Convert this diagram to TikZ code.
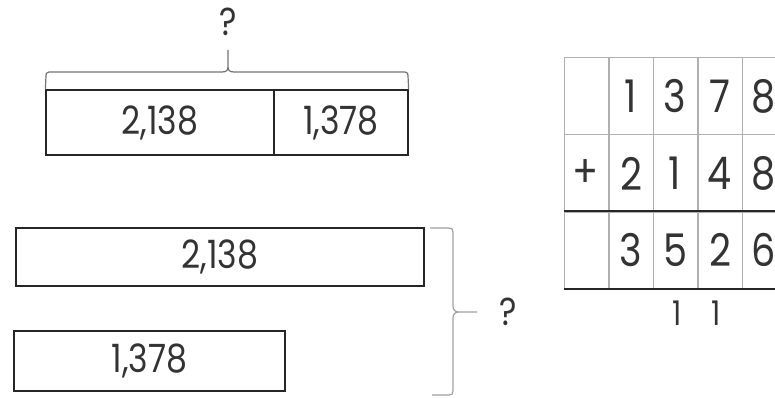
\documentclass[tikz,border=0pt]{standalone}
\usepackage{fontspec}
\setmainfont[FakeStretch=0.85]{Poppins}
\definecolor{ink}{HTML}{333333}
\definecolor{gridc}{HTML}{B0B0B0}
\definecolor{bracec}{HTML}{A0A0A0}
\begin{document}
\begin{tikzpicture}[x=1pt,y=-1pt,
  bar/.style={draw=black!85,line width=1.3pt,inner sep=0pt,minimum height=#1,text=ink,font=\fontsize{39}{39}\selectfont},
  bar/.default=65pt,
  cell/.style={draw=gridc,line width=1pt,minimum width=44pt,minimum height=77pt,inner sep=0pt,text=ink,font=\fontsize{45}{45}\selectfont},
  lbl/.style={text=ink,inner sep=0pt,font=\fontsize{39}{39}\selectfont},
  brc/.style={draw=bracec,line width=1.2pt},
  thick rule/.style={draw=black!85,line width=1.8pt}]
\useasboundingbox (0,0) rectangle (775,398);
\clip (0,0) rectangle (775,398);
% top bar model
\node[bar,minimum width=228pt] (a) at (160,122.5) {2,138};
\node[bar,minimum width=134pt] (b) at (341,122.5) {1,378};
\node[lbl] (qt) at (228,22) {?};
\draw[brc,draw=black!55] (a.north west) -- (46,76) .. controls (46,73) .. (49,72) -- (222,72)
  .. controls (227,72) and (228,70) .. (228,66) -- (228,50) -- (228,66)
  .. controls (228,70) and (229,72) .. (234,72) -- (405,72) .. controls (408,73) .. (408,76) -- (b.north east);
% bottom bars
\node[bar=58pt,minimum width=408pt] (c) at (220,257) {2,138};
\node[bar=60pt,minimum width=271pt] (d) at (149.5,361) {1,378};
\node[lbl] (qr) at (508,312) {?};
\draw[brc] (430,228) -- (449,228) .. controls (452,228) and (453,229) .. (453,232) -- (453,306)
  .. controls (453,310) and (455,312) .. (459,312) -- (477,312) -- (459,312)
  .. controls (455,312) and (453,314) .. (453,318) -- (453,391) .. controls (453,394) and (452,395) .. (449,395) -- (432,395);
% addition grid
\foreach \r/\y in {1/96.5,2/173.5,3/250}{
  \foreach \c/\x in {0/586,1/631,2/675,3/720,4/764}{
    \node[cell] (g\r\c) at (\x,\y) {};
  }
}
\foreach \r/\d in {1/{,1,3,7,8},2/{+,2,1,4,8},3/{,3,5,2,6}}{
  \foreach \t [count=\i from 0] in \d {
    \node[text=ink,inner sep=0pt,font=\fontsize{45}{45}\selectfont] at (g\r\i) {\t};
  }
}
\draw[thick rule] (g30.north west) -- (g34.north east);
\draw[thick rule] (g30.south west) -- (g34.south east);
\node[lbl,font=\fontsize{34}{34}\selectfont] (k1) at (677,313) {1};
\node[lbl,font=\fontsize{34}{34}\selectfont] (k2) at (716,313) {1};
\end{tikzpicture}
\end{document}
